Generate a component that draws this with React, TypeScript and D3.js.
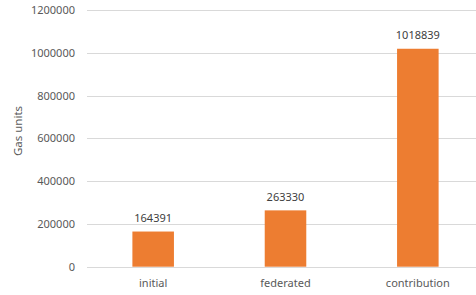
import { useEffect, useRef } from "react";
import * as d3 from "d3";

const categories = ["initial", "federated", "contribution"];
const gasValues = [164391, 263330, 1018839];
const yTicks = [0, 200000, 400000, 600000, 800000, 1000000, 1200000];

export default function App() {
  const chartRef = useRef<SVGSVGElement>(null);

  useEffect(() => {
    if (!chartRef.current) return;
    const width = 476;
    const height = 295;
    const margin = { top: 10, right: -8, bottom: 28, left: 87 };

    const svg = d3.select(chartRef.current);
    svg.selectAll("*").remove();

    const font = "'Noto Sans', 'Open Sans', sans-serif";
    const textColor = "#595959";

    const xScale = d3
      .scaleBand()
      .domain(categories)
      .range([margin.left, width - margin.right])
      .paddingInner(0.686)
      .paddingOuter(0.343);

    const yScale = d3
      .scaleLinear()
      .domain([0, 1200000])
      .range([height - margin.bottom - 0.3, margin.top]);

    // gridlines
    svg
      .append("g")
      .selectAll("line")
      .data(yTicks)
      .enter()
      .append("line")
      .attr("x1", margin.left)
      .attr("x2", width)
      .attr("y1", (d) => Math.round(yScale(d)) + 0.5)
      .attr("y2", (d) => Math.round(yScale(d)) + 0.5)
      .attr("stroke", "#d9d9d9")
      .attr("stroke-width", 1);

    // y tick labels
    svg
      .append("g")
      .selectAll("text")
      .data(yTicks)
      .enter()
      .append("text")
      .attr("x", 75)
      .attr("y", (d) => yScale(d) + 4)
      .attr("text-anchor", "end")
      .attr("font-family", font)
      .attr("font-size", "11px")
      .attr("fill", textColor)
      .text((d) => String(d));

    // bars
    svg
      .append("g")
      .selectAll("rect")
      .data(gasValues)
      .enter()
      .append("rect")
      .attr("x", (_, i) => xScale(categories[i]) || 0)
      .attr("y", (d) => yScale(d))
      .attr("width", xScale.bandwidth())
      .attr("height", (d) => yScale(0) - yScale(d))
      .attr("fill", "#ed7d31");

    // value labels
    svg
      .append("g")
      .selectAll("text")
      .data(gasValues)
      .enter()
      .append("text")
      .attr("x", (_, i) => (xScale(categories[i]) || 0) + xScale.bandwidth() / 2)
      .attr("y", (d) => yScale(d) - 9.5)
      .attr("text-anchor", "middle")
      .attr("font-family", font)
      .attr("font-size", "11px")
      .attr("fill", "#404040")
      .text((d) => String(d));

    // x labels
    svg
      .append("g")
      .selectAll("text")
      .data(categories)
      .enter()
      .append("text")
      .attr("x", (d) => (xScale(d) || 0) + xScale.bandwidth() / 2)
      .attr("y", 287)
      .attr("text-anchor", "middle")
      .attr("font-family", font)
      .attr("font-size", "11px")
      .attr("fill", textColor)
      .text((d) => d);

    // y axis title
    svg
      .append("text")
      .attr("transform", `translate(22,131) rotate(-90)`)
      .attr("text-anchor", "middle")
      .attr("font-family", font)
      .attr("font-size", "11.5px")
      .attr("fill", textColor)
      .text("Gas units");
  }, []);

  return (
    <svg
      ref={chartRef}
      width={476}
      height={295}
      style={{ position: "fixed", left: 0, top: 0, background: "#fff" }}
    />
  );
}
